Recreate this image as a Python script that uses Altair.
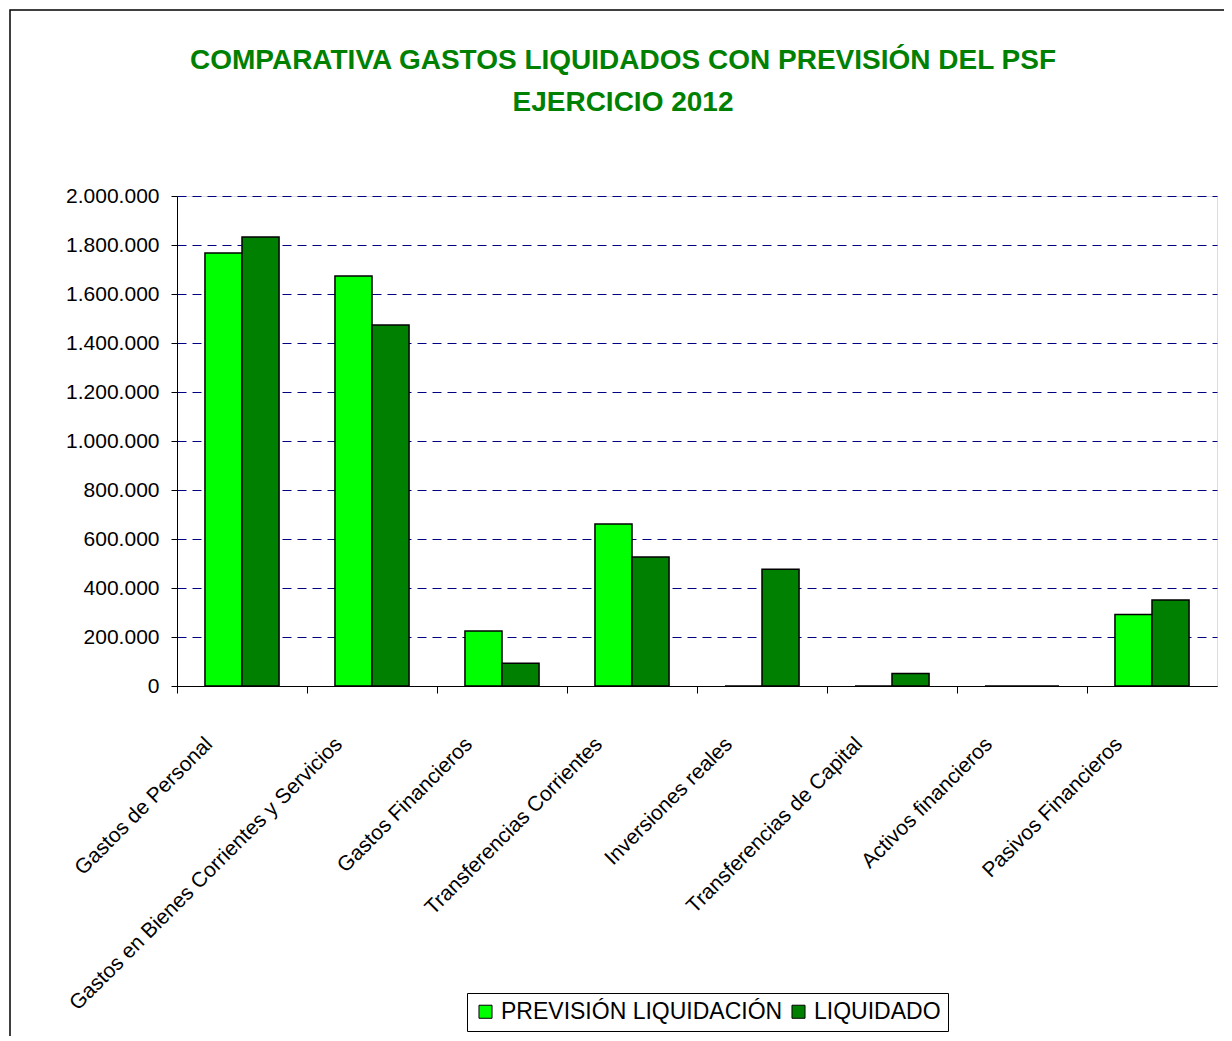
import altair as alt
import pandas as pd

categorias = [
    "Gastos de Personal",
    "Gastos en Bienes Corrientes y Servicios",
    "Gastos Financieros",
    "Transferencias Corrientes",
    "Inversiones reales",
    "Transferencias de Capital",
    "Activos financieros",
    "Pasivos Financieros",
]
series = ["PREVISIÓN LIQUIDACIÓN", "LIQUIDADO"]
prevision = [1767000, 1673000, 225000, 661000, 0, 0, 0, 292000]
liquidado = [1833000, 1473000, 93000, 527000, 477000, 51000, 0, 351000]
colores = ["#00FF00", "#008000"]

rows = []
for c, p, l in zip(categorias, prevision, liquidado):
    rows.append({"categoria": c, "serie": series[0], "valor": p})
    rows.append({"categoria": c, "serie": series[1], "valor": l})
df = pd.DataFrame(rows)

FONT = "Liberation Sans, Arial, sans-serif"

bars = alt.Chart(df).mark_bar(stroke="black", strokeWidth=1.5).encode(
    x=alt.X(
        "categoria:N",
        sort=categorias,
        title=None,
        scale=alt.Scale(paddingInner=0.43, paddingOuter=0.215),
        axis=alt.Axis(
            tickOffset=-65,
            tickSize=7,
            tickColor="black",
            domainColor="black",
            labelAngle=315,
            labelAlign="right",
            labelBaseline="top",
            labelOffset=24,
            labelPadding=40,
            labelLimit=600,
            labelFont=FONT,
            labelFontSize=21,
            labelColor="black",
            grid=False,
        ),
    ),
    xOffset=alt.XOffset("serie:N", sort=series),
    y=alt.Y(
        "valor:Q",
        title=None,
        scale=alt.Scale(domain=[0, 2000000], nice=False),
        axis=alt.Axis(
            values=[0, 200000, 400000, 600000, 800000, 1000000, 1200000,
                    1400000, 1600000, 1800000, 2000000],
            format=",d",
            tickSize=6,
            tickColor="black",
            domainColor="black",
            labelPadding=12,
            labelFont=FONT,
            labelFontSize=21,
            labelColor="black",
            grid=True,
            gridColor="#000080",
            gridDash=[9, 6],
            gridWidth=1,
        ),
    ),
    color=alt.Color(
        "serie:N",
        sort=series,
        scale=alt.Scale(domain=series, range=colores),
        legend=alt.Legend(
            title=None,
            orient="none",
            legendX=290,
            legendY=797,
            direction="horizontal",
            symbolType="square",
            symbolSize=170,
            symbolStrokeColor="black",
            symbolStrokeWidth=1,
            labelFont=FONT,
            labelFontSize=23,
            labelColor="black",
            labelLimit=500,
            strokeColor="black",
            fillColor="white",
            padding=7,
            columnPadding=4,
            labelOffset=4,
        ),
    ),
)

frame = alt.Chart(alt.Data(values=[{"a": 1}])).mark_rect(
    fill=None, stroke="black", strokeWidth=1.5, clip=False
).encode(
    x=alt.value(-167), x2=alt.value(1200),
    y=alt.value(-186), y2=alt.value(1000),
)

chart = alt.layer(frame, bars).properties(
    width=1040,
    height=490,
    padding={"left": 169, "top": 188, "right": 7, "bottom": 350},
    autosize=alt.AutoSizeParams(type="none"),
    title=alt.TitleParams(
        text=["COMPARATIVA GASTOS LIQUIDADOS CON PREVISIÓN DEL PSF", "EJERCICIO 2012"],
        color="#008000",
        font="Liberation Sans, Arial, sans-serif",
        fontWeight="bold",
        fontSize=28,
        lineHeight=42,
        anchor="middle",
        frame="group",
        baseline="top",
        dx=-74,
        offset=-108,
    ),
).configure_view(
    fill="#CCFFCC", stroke="#808080", strokeDash=[9, 6], strokeWidth=1
).configure(
    locale={"number": {"decimal": ",", "thousands": ".", "grouping": [3],
                       "currency": ["", " €"]}},
    background="white",
)

chart.save("out.html", embed_options={"renderer": "svg", "actions": False})
